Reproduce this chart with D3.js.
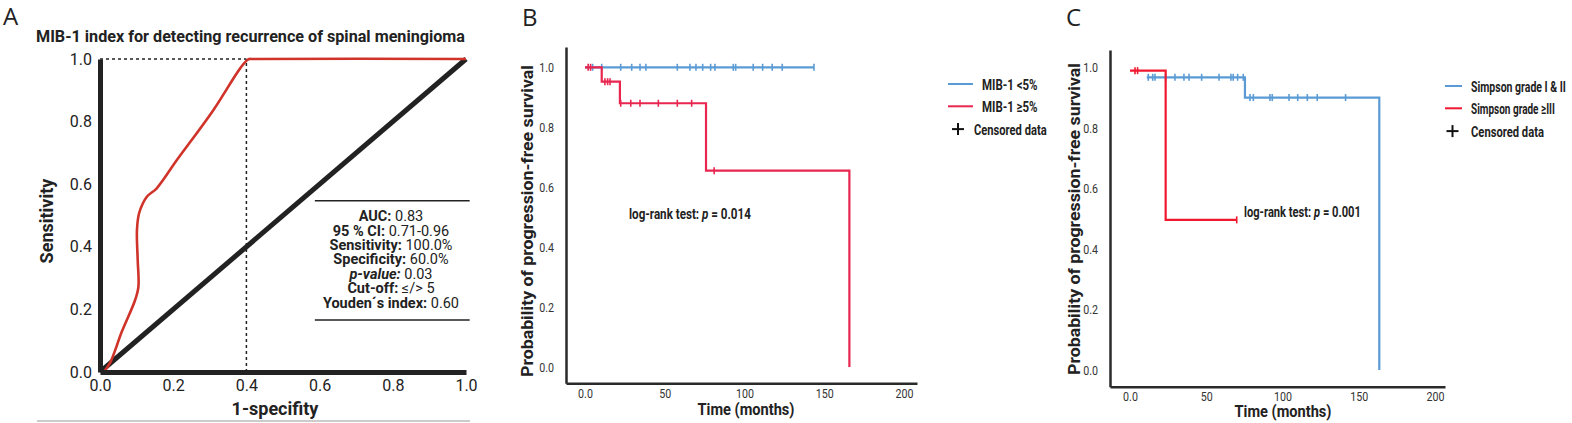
<!DOCTYPE html>
<html>
<head>
<meta charset="utf-8">
<script src="https://cdn.jsdelivr.net/npm/d3@7"></script>
<style>
  body { margin: 0; background: #fff; }
  svg { display: block; }
  text { font-family: Roboto, "Noto Sans", sans-serif; }
</style>
</head>
<body>
<div id="wrapper"></div>
<script>
// # Data, panel A (ROC curve)
const rocFpr = [0.01, 0.027, 0.06, 0.096, 0.105, 0.103, 0.101, 0.107, 0.128, 0.155, 0.21, 0.31, 0.383, 0.405, 0.418, 1.0];
const rocTpr = [0.0, 0.028, 0.13, 0.23, 0.273, 0.358, 0.454, 0.508, 0.56, 0.587, 0.677, 0.837, 0.97, 0.999, 1.0, 1.0];
const refFpr = [0, 1];
const refTpr = [0, 1];
const cutoffFpr = 0.40;
const cutoffTpr = 1.0;
const rocTicks = [0, 0.2, 0.4, 0.6, 0.8, 1.0];
const statsLabels = ["AUC:", "95 % CI:", "Sensitivity:", "Specificity:", "p-value:", "Cut-off:", "Youden´s index:"];
const statsValues = ["0.83", "0.71-0.96", "100.0%", "60.0%", "0.03", "≤/> 5", "0.60"];

// # Data, panel B (MIB-1 index)
const bLowTimes = [0];
const bLowSurv = [1.0];
const bLowLast = 143.6;
const bLowCensor = [4.8, 10.5, 22.4, 29.3, 34.5, 38.2, 57.9, 65.8, 69.6, 73.8, 78.8, 81.5, 93, 94.5, 105.5, 111.4, 117.4, 123.7, 143.6];
const bHighTimes = [0, 10.5, 21.9, 75.9, 165.8];
const bHighSurv = [1.0, 0.952, 0.88, 0.655, 0.0];
const bHighLast = 165.8;
const bHighCensor = [2, 3.5, 12.5, 14.2, 15.7, 22.4, 28.7, 34.5, 46, 57.9, 66.9, 81];

// # Data, panel C (Simpson grade)
const cLowTimes = [11, 75.4, 163.5];
const cLowSurv = [0.967, 0.9, 0.0];
const cLowLast = 163.5;
const cLowCensor = [12, 14.9, 16.4, 23.4, 29.5, 35.4, 38.7, 47, 58.4, 66.2, 67.7, 70.6, 74.3, 78.7, 80.9, 91.8, 93.3, 104.3, 110, 116.3, 122.8, 141.4];
const cHighTimes = [0, 23.4];
const cHighSurv = [0.989, 0.496];
const cHighLast = 70;
const cHighCensor = [3.3, 5, 70];

const kmTicksX = [0, 50, 100, 150, 200];
const kmTicksY = [0, 0.2, 0.4, 0.6, 0.8, 1.0];

const blue = "#5b9bd5";
const redB = "#e8264f";
const redC = "#f0182f";
const ink = "#222";

const svg = d3.select("#wrapper")
  .append("svg")
  .attr("width", 1572)
  .attr("height", 423);

// squeeze a text horizontally, like a condensed face
function squeeze(sel, ratio) {
  sel.each(function () {
    const len = this.getComputedTextLength();
    d3.select(this).attr("textLength", len * ratio).attr("lengthAdjust", "spacingAndGlyphs");
  });
}

// place a text at (x, y) and scale it in x so it is w wide
function fitTo(sel, x, y, w) {
  const len = sel.node().getBBox().width;
  sel.attr("transform", `translate(${x},${y}) scale(${w / len},1)`);
}

// # Panel A
const ax = d3.scaleLinear().domain([0, 1]).range([100, 466]);
const ay = d3.scaleLinear().domain([0, 1]).range([372, 59]);
const gA = svg.append("g");

gA.append("text").attr("x", 3).attr("y", 25).text("A")
  .style("font-size", "24px").style("font-family", "'Open Sans', sans-serif").attr("fill", ink);

gA.append("text").attr("x", 36).attr("y", 42)
  .text("MIB-1 index for detecting recurrence of spinal meningioma")
  .style("font-weight", "bold").style("font-size", "16.5px")
  .attr("textLength", 429).attr("lengthAdjust", "spacingAndGlyphs")
  .attr("fill", ink);

// dashed cut-off guides
gA.append("line")
  .attr("x1", ax(0)).attr("y1", ay(cutoffTpr)).attr("x2", ax(cutoffFpr)).attr("y2", ay(cutoffTpr))
  .attr("stroke", ink).attr("stroke-width", 1.5).attr("stroke-dasharray", "3 3");
gA.append("line")
  .attr("x1", ax(cutoffFpr)).attr("y1", ay(0)).attr("x2", ax(cutoffFpr)).attr("y2", ay(cutoffTpr))
  .attr("stroke", ink).attr("stroke-width", 1.5).attr("stroke-dasharray", "3 3");

// reference diagonal
gA.append("path")
  .datum(d3.zip(refFpr, refTpr))
  .attr("d", d3.line().x(d => ax(d[0])).y(d => ay(d[1])))
  .attr("fill", "none").attr("stroke", ink).attr("stroke-width", 5);

// ROC curve
gA.append("path")
  .datum(d3.zip(rocFpr, rocTpr))
  .attr("d", d3.line().x(d => ax(d[0])).y(d => ay(d[1])).curve(d3.curveCatmullRom.alpha(0.5)))
  .attr("fill", "none").attr("stroke", "#cf3329").attr("stroke-width", 2.6);

// axes
const axA = gA.append("g").attr("transform", `translate(0,${ay(0)})`)
  .call(d3.axisBottom(ax).tickValues(rocTicks).tickSize(0).tickPadding(8).tickFormat(d3.format(".1f")));
const ayA = gA.append("g").attr("transform", `translate(${ax(0)},0)`)
  .call(d3.axisLeft(ay).tickValues(rocTicks).tickSize(0).tickPadding(8).tickFormat(d3.format(".1f")));
[axA, ayA].forEach(a => {
  a.select(".domain").attr("stroke", ink).attr("stroke-width", 5);
  a.selectAll("text").style("font-size", "16px").style("font-family", "Roboto, sans-serif").attr("fill", ink);
});

gA.append("text")
  .attr("transform", "translate(53,221) rotate(-90)")
  .attr("text-anchor", "middle")
  .text("Sensitivity")
  .style("font-weight", "bold").style("font-size", "18px").attr("fill", ink);

gA.append("text")
  .attr("x", 275).attr("y", 415)
  .attr("text-anchor", "middle")
  .text("1-specifity")
  .style("font-weight", "bold").style("font-size", "18px").attr("fill", ink);

// stats box
const boxTop = ay(0.547), boxBottom = ay(0.166);
[boxTop, boxBottom].forEach(yy => {
  gA.append("line")
    .attr("x1", ax(0.587)).attr("x2", ax(1.01)).attr("y1", yy).attr("y2", yy)
    .attr("stroke", ink).attr("stroke-width", 1.5);
});
const stats = gA.append("g")
  .selectAll("text")
  .data(d3.zip(statsLabels, statsValues))
  .join("text")
  .attr("x", ax(0.795))
  .attr("y", (d, i) => boxTop + 20.5 + i * 14.4)
  .attr("text-anchor", "middle")
  .style("font-size", "14.5px")
  .attr("fill", ink);
stats.append("tspan").text(d => d[0])
  .style("font-weight", "bold")
  .style("font-style", d => d[0] === "p-value:" ? "italic" : "normal");
stats.append("tspan").text(d => " " + d[1]);

gA.append("line")
  .attr("x1", 37).attr("x2", 470).attr("y1", 421).attr("y2", 421)
  .attr("stroke", "#999").attr("stroke-width", 1);

// # Kaplan-Meier panels
function survAt(times, surv, t) {
  let s = surv[0];
  times.forEach((ti, i) => { if (ti <= t) s = surv[i]; });
  return s;
}

function drawKM(cfg) {
  const g = svg.append("g");
  const x = d3.scaleLinear().domain(cfg.xDomain).range(cfg.xRange);
  const y = d3.scaleLinear().domain(cfg.yDomain).range(cfg.yRange);

  g.append("text").attr("x", cfg.letterX).attr("y", 26).text(cfg.letter)
    .style("font-size", "24px").style("font-family", "'Open Sans', sans-serif").attr("fill", ink);

  const xAxis = g.append("g").attr("transform", `translate(0,${cfg.yRange[0]})`)
    .call(d3.axisBottom(x).tickValues(kmTicksX).tickSize(0).tickPadding(5)
      .tickFormat(d => d === 0 ? "0.0" : d));
  const yAxis = g.append("g").attr("transform", `translate(${cfg.xRange[0]},0)`)
    .call(d3.axisLeft(y).tickValues(kmTicksY).tickSize(0).tickPadding(12).tickFormat(d3.format(".1f")));
  [xAxis, yAxis].forEach(a => {
    a.select(".domain").attr("stroke", "#2a2a2a").attr("stroke-width", 2.5);
    a.selectAll("text").style("font-family", "Roboto, sans-serif").style("font-size", "13px").attr("fill", "#333")
      .call(squeeze, 0.82);
  });

  const line = d3.line().curve(d3.curveStepAfter).x(d => x(d[0])).y(d => y(d[1]));

  cfg.series.forEach(s => {
    const pts = d3.zip(s.times, s.surv);
    if (s.last > s.times[s.times.length - 1]) pts.push([s.last, s.surv[s.surv.length - 1]]);
    g.append("path").datum(pts).attr("d", line)
      .attr("fill", "none").attr("stroke", s.color).attr("stroke-width", 2.2);
    g.append("g").selectAll("line")
      .data(s.censor)
      .join("line")
      .attr("x1", d => x(d)).attr("x2", d => x(d))
      .attr("y1", d => y(survAt(s.times, s.surv, d)) - 3.5)
      .attr("y2", d => y(survAt(s.times, s.surv, d)) + 3.5)
      .attr("stroke", s.color).attr("stroke-width", 1.6);
  });

  g.append("text")
    .attr("transform", `translate(${cfg.yTitleX},${cfg.yTitleY}) rotate(-90)`)
    .attr("text-anchor", "middle")
    .text("Probability of progression-free survival")
    .style("font-weight", "bold").style("font-size", "16px")
    .attr("textLength", 312).attr("lengthAdjust", "spacingAndGlyphs")
    .attr("fill", ink);

  g.append("text")
    .attr("x", cfg.xTitleX).attr("y", cfg.xTitleY)
    .attr("text-anchor", "middle")
    .text("Time (months)")
    .style("font-weight", "bold").style("font-size", "17px")
    .attr("textLength", 97).attr("lengthAdjust", "spacingAndGlyphs")
    .attr("fill", ink);

  const lr = g.append("text")
    .style("font-size", "14.5px").style("font-weight", "bold")
    .attr("fill", ink);
  lr.append("tspan").text("log-rank test:  ");
  lr.append("tspan").text("p").style("font-style", "italic");
  lr.append("tspan").text(" = " + cfg.pValue);
  fitTo(lr, cfg.lrX, cfg.lrY, cfg.lrW);

  // legend
  const lg = g.append("g").style("font-size", "15.5px").style("font-weight", "bold");
  cfg.series.forEach((s, i) => {
    const ly = cfg.legY + i * 22.3;
    lg.append("line").attr("x1", cfg.legLineX[0]).attr("x2", cfg.legLineX[1])
      .attr("y1", ly).attr("y2", ly).attr("stroke", s.color).attr("stroke-width", 2);
    const t = lg.append("text").text(s.name).attr("fill", ink);
    fitTo(t, cfg.legTextX, ly + 5.5, cfg.legW[i]);
  });
  const cy = cfg.legY + 2 * 22.3 + 0.5;
  const cx = cfg.legPlusX;
  lg.append("line").attr("x1", cx - 6).attr("x2", cx + 6).attr("y1", cy).attr("y2", cy).attr("stroke", "#111").attr("stroke-width", 2);
  lg.append("line").attr("x1", cx).attr("x2", cx).attr("y1", cy - 6).attr("y2", cy + 6).attr("stroke", "#111").attr("stroke-width", 2);
  const ct = lg.append("text").text("Censored data").attr("fill", ink);
  fitTo(ct, cfg.legCensX, cy + 5.5, cfg.legW[2]);
}

drawKM({
  letter: "B", letterX: 522,
  xDomain: [-11.9, 208.2], xRange: [566, 917],
  yDomain: [-0.0544, 1.0677], yRange: [383.3, 47],
  series: [
    { name: "MIB-1 <5%", times: bLowTimes, surv: bLowSurv, last: bLowLast, censor: bLowCensor, color: blue },
    { name: "MIB-1 ≥5%", times: bHighTimes, surv: bHighSurv, last: bHighLast, censor: bHighCensor, color: redB }
  ],
  yTitleX: 533, yTitleY: 221,
  xTitleX: 746, xTitleY: 415,
  lrX: 629, lrY: 219, lrW: 122, pValue: "0.014",
  legY: 84, legLineX: [948, 973], legTextX: 982, legPlusX: 958, legCensX: 974,
  legW: [55.6, 55.6, 72.7]
});

drawKM({
  letter: "C", letterX: 1066,
  xDomain: [-13.1, 206.6], xRange: [1110, 1445],
  yDomain: [-0.0552, 1.0572], yRange: [386.7, 50],
  series: [
    { name: "Simpson grade I & II", times: cLowTimes, surv: cLowSurv, last: cLowLast, censor: cLowCensor, color: blue },
    { name: "Simpson grade ≥III", times: cHighTimes, surv: cHighSurv, last: cHighLast, censor: cHighCensor, color: redC }
  ],
  yTitleX: 1080, yTitleY: 219,
  xTitleX: 1283, xTitleY: 417,
  lrX: 1244, lrY: 217, lrW: 117, pValue: "0.001",
  legY: 86, legLineX: [1445, 1462], legTextX: 1471, legPlusX: 1452.5, legCensX: 1471,
  legW: [95, 84, 73]
});
</script>
</body>
</html>
